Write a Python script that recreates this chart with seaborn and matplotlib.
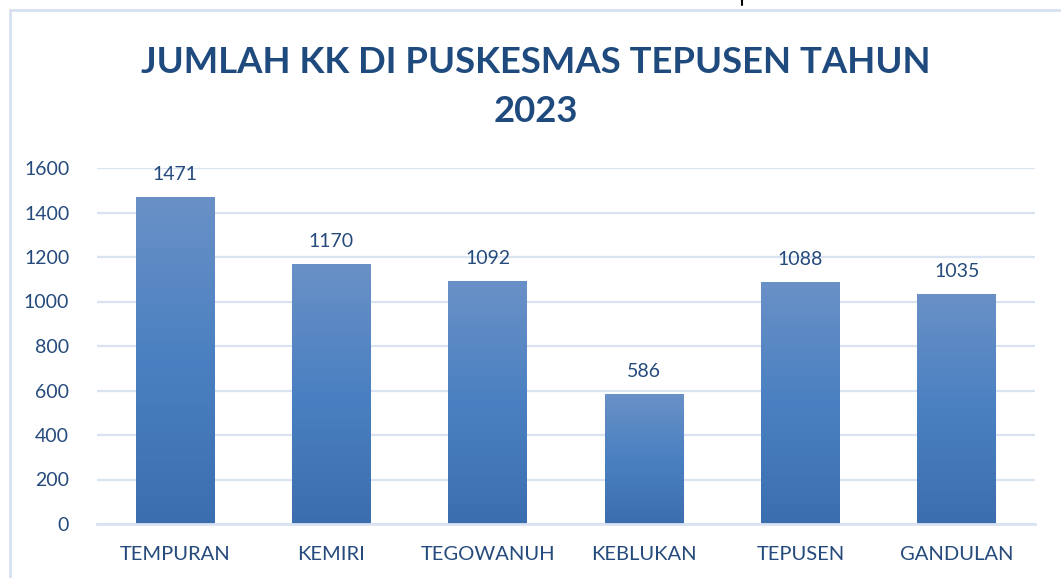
import matplotlib
matplotlib.use("Agg")
import matplotlib.pyplot as plt
import matplotlib.patches as mpatches
from matplotlib.lines import Line2D
from matplotlib.colors import LinearSegmentedColormap
import numpy as np
import pandas as pd
import seaborn as sns

# data
desa = ['TEMPURAN', 'KEMIRI', 'TEGOWANUH', 'KEBLUKAN', 'TEPUSEN', 'GANDULAN']
jumlah_kk = [1471, 1170, 1092, 586, 1088, 1035]
y_ticks = [0, 200, 400, 600, 800, 1000, 1200, 1400, 1600]
judul = 'JUMLAH KK DI PUSKESMAS TEPUSEN TAHUN\n2023'

text_col = '#254a7c'
grid_col = '#d9e3f2'

sns.set_theme(style='white')
plt.rcParams['font.family'] = ['Lato', 'DejaVu Sans']

df = pd.DataFrame({'Desa': desa, 'KK': jumlah_kk})

fig = plt.figure(figsize=(10.61, 5.78), dpi=100)
ax = fig.add_axes([97 / 1061, 1 - 524 / 578, (1035 - 97) / 1061, (524 - 168) / 578])

sns.barplot(data=df, x='Desa', y='KK', ax=ax, width=0.505, color='#4a7fc0',
            saturation=1, zorder=3)

# gradient fill per bar (light top -> dark bottom)
cmap = LinearSegmentedColormap.from_list('grad', ['#3b6eaf', '#4a80c1', '#6a91c7'])
grad = np.linspace(0, 1, 256).reshape(-1, 1)
for p in ax.patches:
    x0, y0 = p.get_x(), p.get_y()
    w, h = p.get_width(), p.get_height()
    im = ax.imshow(grad, cmap=cmap, origin='lower', aspect='auto',
                   extent=[x0, x0 + w, y0, y0 + h], zorder=3)
    im.set_clip_path(p)
    p.set_facecolor('none')
    p.set_edgecolor('none')
    ax.annotate(f'{int(h)}', (x0 + w / 2, h), xytext=(0, 10), textcoords='offset points',
                ha='center', va='bottom', fontsize=14, color=text_col)

ax.set_xlim(-0.5, len(desa) - 0.5)
ax.set_ylim(0, 1600)
ax.set_yticks(y_ticks)
ax.yaxis.grid(True, color=grid_col, linewidth=1.6, zorder=0)
ax.set_axisbelow(True)
for s in ['top', 'right', 'left']:
    ax.spines[s].set_visible(False)
ax.spines['bottom'].set_color(grid_col)
ax.spines['bottom'].set_linewidth(2)
ax.spines['bottom'].set_zorder(4)
ax.tick_params(axis='y', length=0, labelsize=14, labelcolor=text_col, pad=20)
ax.tick_params(axis='x', length=0, labelsize=14.5, labelcolor=text_col, pad=16)
ax.set_xlabel('')
ax.set_ylabel('')

fig.text(536 / 1061, 1 - 87 / 578, judul, ha='center', va='center', fontsize=26.3,
         fontweight='bold', color='#1f4a7e', linespacing=1.6)

# chart frame
fig.patches.append(mpatches.Rectangle((10 / 1061, -0.1), 1.2, 1 - 10 / 578 + 0.1,
                                      transform=fig.transFigure, fill=False,
                                      edgecolor='#d6e0ef', linewidth=2))
# descender of a letter from text above the chart
fig.lines.append(Line2D([742 / 1061, 742 / 1061], [1.0, 1 - 5 / 578],
                        transform=fig.transFigure, color='black', linewidth=1.5))

fig.savefig('out.png', dpi=100)
